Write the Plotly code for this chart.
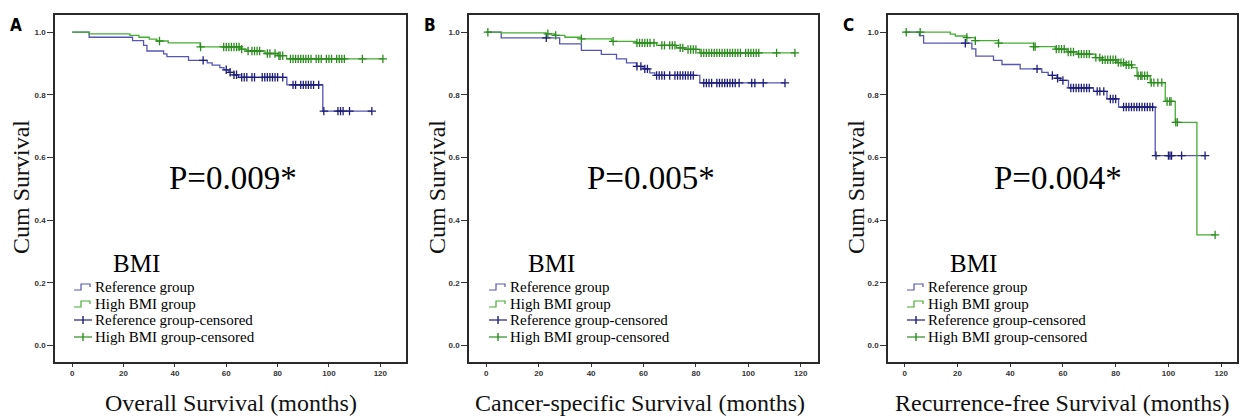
import plotly.graph_objects as go

# ---------------- data ----------------
x_ticks = [0, 20, 40, 60, 80, 100, 120]
y_ticks = [0.0, 0.2, 0.4, 0.6, 0.8, 1.0]
y_ticklabels = ["0.0", "0.2", "0.4", "0.6", "0.8", "1.0"]

legend_labels = ["Reference group", "High BMI group",
                 "Reference group-censored", "High BMI group-censored"]
legend_title = "BMI"

# Panel A – Overall survival
a_ref_t = [0, 6.6, 23.5, 27.8, 29.1, 35.6, 36.9, 45.3, 52.6, 54.5, 57.5, 59.1, 61.0, 63.0, 64.8, 83.6, 97.6]
a_ref_s = [1.0, 0.984, 0.973, 0.958, 0.940, 0.931, 0.922, 0.910, 0.902, 0.895, 0.887, 0.880, 0.872, 0.864, 0.856, 0.832, 0.748]
a_ref_end = 116.7
a_ref_cens = [51, 60, 61.5, 63, 64, 66, 67, 68, 70, 71, 74, 75, 76, 77, 78, 79, 80, 82,
              86, 87, 89, 90, 91, 92, 93, 94, 96, 98, 103.5, 104.5, 105.5, 108, 116.7]
a_hi_t = [0, 6.5, 22.5, 26, 30, 33, 37.4, 49.8, 65.4, 68, 75.1, 80, 83.5]
a_hi_s = [1.0, 0.995, 0.990, 0.984, 0.978, 0.972, 0.966, 0.953, 0.946, 0.940, 0.932, 0.925, 0.915]
a_hi_end = 121
a_hi_cens = [34, 50, 59, 60, 61, 62, 63, 64, 65, 66, 68.5, 70, 71, 72, 73, 76, 77, 79, 80.5, 81, 82,
             85, 86, 87, 88, 89, 90, 91, 92, 93, 95, 96, 97, 99, 100, 101, 103, 104, 105, 106, 113, 121]
a_p = "P=0.009*"
a_xtitle = "Overall Survival (months)"

# Panel B – Cancer-specific survival
b_ref_t = [0, 5.7, 28.0, 36.3, 43.9, 49.7, 53.5, 57.3, 59.8, 62.4, 64.3, 81.5]
b_ref_s = [1.0, 0.982, 0.963, 0.942, 0.929, 0.915, 0.902, 0.891, 0.883, 0.870, 0.862, 0.838]
b_ref_end = 114
b_ref_cens = [22.9, 57.5, 59, 60.5, 61.5, 65, 66, 67, 68, 70, 72, 73, 74, 75, 76, 77, 78, 79,
              83, 84, 85, 86, 88, 89, 90, 91, 92, 93, 94, 95, 96.5, 101.3, 102.5, 105.7, 114]
b_hi_t = [0, 5.7, 22.9, 26.0, 30.0, 36.3, 47.8, 57.3, 65.0, 72.6, 76.0, 81.5]
b_hi_s = [1.0, 0.998, 0.995, 0.990, 0.984, 0.979, 0.971, 0.966, 0.958, 0.950, 0.945, 0.934]
b_hi_end = 117.8
b_hi_cens = [0.6, 23.5, 26.5, 36.3, 48.4, 57.5, 58.5, 59.5, 60.5, 61.5, 62.5, 64, 67, 68, 70, 71, 72,
             74, 75, 77, 78, 79, 80, 82, 83, 84, 85, 86, 87, 88, 89, 90, 91, 92, 93, 94, 95, 96, 97,
             99, 100, 101, 102, 103, 104, 110.8, 117.8]
b_p = "P=0.005*"
b_xtitle = "Cancer-specific Survival (months)"

# Panel C – Recurrence-free survival
c_ref_t = [0, 5.6, 7.2, 25.5, 27.0, 33.7, 36.9, 43.8, 52.0, 54.4, 57.7, 59.0, 62.1, 71.6, 76.7, 81.1, 95.0]
c_ref_s = [1.0, 0.989, 0.965, 0.947, 0.924, 0.910, 0.897, 0.883, 0.872, 0.862, 0.853, 0.846,
           0.822, 0.811, 0.787, 0.761, 0.606]
c_ref_end = 113.9
c_ref_cens = [23, 50.2, 56, 58, 60, 63, 64, 65, 66, 67, 68, 69, 70, 73, 74, 75.5, 78, 79, 80,
              83, 84, 85, 86, 87, 88, 89, 90, 91, 92, 93, 94, 95.3, 100, 100.6, 101.2, 105, 113.9]
c_hi_t = [0, 17.3, 19.2, 23.6, 26.8, 35.6, 48.9, 57.1, 61.5, 65.3, 72.3, 74.8, 80.5, 83.6, 86.2,
          88.1, 93.1, 98.8, 102.6, 110.8]
c_hi_s = [1.0, 0.994, 0.988, 0.983, 0.973, 0.965, 0.954, 0.946, 0.937, 0.930, 0.919, 0.912,
          0.903, 0.896, 0.887, 0.861, 0.839, 0.779, 0.712, 0.353]
c_hi_end = 117.7
c_hi_cens = [0.6, 5.9, 23.6, 26.8, 35.6, 48.9, 49.5, 57.5, 58.5, 59.5, 60.5, 62, 63, 64, 66, 67,
             68, 69, 70, 72.5, 74, 75, 76, 77, 78, 79, 80, 81, 82, 83, 84, 85, 86, 88.5, 89.5, 90,
             91, 92, 93.5, 94.5, 96, 97.5, 99.5, 100.5, 101, 102.8, 103.4, 117.7]
c_p = "P=0.004*"
c_xtitle = "Recurrence-free Survival (months)"

# ---------------- styling / layout ----------------
W, H = 1244, 419
BLUE_LINE = "#5656b2"
BLUE_MARK = "#1e1e78"
GREEN_LINE = "#45ad32"
GREEN_MARK = "#2c8c1f"
SERIF = "Liberation Serif, Times New Roman, serif"
TICKFONT = dict(family="Liberation Sans, Arial, sans-serif", size=8, color="#333333", weight="bold")


def px(x):
    return x / W


def py(y):
    return 1 - y / H


def surv_at(times, surv, t):
    val = surv[0]
    for ti, si in zip(times, surv):
        if ti <= t:
            val = si
    return val


panels = [
    dict(letter="A", ref=(a_ref_t, a_ref_s, a_ref_end, a_ref_cens), hi=(a_hi_t, a_hi_s, a_hi_end, a_hi_cens),
         p=a_p, xtitle=a_xtitle, box=(55, 406), xr=(-6.7, 130.0), letter_x=16, ytitle_x=21,
         p_x=233, bmi_x=136, leg_x=74, xtitle_x=231),
    dict(letter="B", ref=(b_ref_t, b_ref_s, b_ref_end, b_ref_cens), hi=(b_hi_t, b_hi_s, b_hi_end, b_hi_cens),
         p=b_p, xtitle=b_xtitle, box=(469, 818), xr=(-6.6, 126.6), letter_x=430, ytitle_x=437,
         p_x=651, bmi_x=551, leg_x=489, xtitle_x=640),
    dict(letter="C", ref=(c_ref_t, c_ref_s, c_ref_end, c_ref_cens), hi=(c_hi_t, c_hi_s, c_hi_end, c_hi_cens),
         p=c_p, xtitle=c_xtitle, box=(888, 1237), xr=(-6.3, 126.0), letter_x=848, ytitle_x=856,
         p_x=1058, bmi_x=974, leg_x=907, xtitle_x=1062),
]

BOX_TOP, BOX_BOTTOM = 15, 362
YR = (-0.053, 1.055)

fig = go.Figure()
annotations = []
shapes = []

for i, pn in enumerate(panels):
    k = "" if i == 0 else str(i + 1)
    xa, ya = "x" + k, "y" + k
    for (t, s, end, cens), lc, mc in ((pn["ref"], BLUE_LINE, BLUE_MARK), (pn["hi"], GREEN_LINE, GREEN_MARK)):
        fig.add_trace(go.Scatter(
            x=list(t) + [end], y=list(s) + [s[-1]], mode="lines",
            line=dict(color=lc, width=1.3, shape="hv"),
            xaxis=xa, yaxis=ya, showlegend=False, hoverinfo="skip"))
        fig.add_trace(go.Scatter(
            x=cens, y=[surv_at(t, s, c) for c in cens], mode="markers",
            marker=dict(symbol="cross-thin", size=6, line=dict(color=mc, width=1.3)),
            xaxis=xa, yaxis=ya, showlegend=False, hoverinfo="skip"))

    x0, x1 = pn["box"]
    fig.layout["xaxis" + k] = dict(
        domain=[px(x0), px(x1)], range=list(pn["xr"]), anchor=ya,
        tickvals=x_ticks, ticks="outside", ticklen=3, tickwidth=1.2, tickcolor="#333333",
        tickfont=TICKFONT, showline=True, mirror=True, linecolor="#2a2a2a", linewidth=1.6,
        showgrid=False, zeroline=False, automargin=False)
    fig.layout["yaxis" + k] = dict(
        domain=[py(BOX_BOTTOM), py(BOX_TOP)], range=list(YR), anchor=xa,
        tickvals=y_ticks, ticktext=y_ticklabels, ticks="outside", ticklen=6, tickwidth=1.2,
        tickcolor="#333333", tickfont=TICKFONT, showline=True, mirror=True,
        linecolor="#2a2a2a", linewidth=1.6, showgrid=False, zeroline=False, automargin=False)

    # panel letter
    annotations.append(dict(x=px(pn["letter_x"]), y=py(25), xref="paper", yref="paper",
                            text=pn["letter"], showarrow=False, xanchor="center", yanchor="middle",
                            font=dict(family="Liberation Sans Narrow, DejaVu Sans Condensed, Arial Narrow, sans-serif",
                                      size=17, color="#000000", weight="bold")))
    # y title
    annotations.append(dict(x=px(pn["ytitle_x"]), y=py(187), xref="paper", yref="paper",
                            text="Cum Survival", textangle=-90, showarrow=False,
                            xanchor="center", yanchor="middle",
                            font=dict(family=SERIF, size=24, color="#111111")))
    # x title
    annotations.append(dict(x=px(pn["xtitle_x"]), y=py(403), xref="paper", yref="paper",
                            text=pn["xtitle"], showarrow=False, xanchor="center", yanchor="middle",
                            font=dict(family=SERIF, size=24, color="#111111")))
    # P value
    annotations.append(dict(x=px(pn["p_x"]), y=py(178), xref="paper", yref="paper",
                            text=pn["p"], showarrow=False, xanchor="center", yanchor="middle",
                            font=dict(family=SERIF, size=33, color="#000000")))
    # legend title
    annotations.append(dict(x=px(pn["bmi_x"]), y=py(263), xref="paper", yref="paper",
                            text=legend_title, showarrow=False, xanchor="center", yanchor="middle",
                            font=dict(family=SERIF, size=25, color="#000000")))
    # legend entries
    lx = pn["leg_x"]
    rows = [287, 304, 320, 337]
    colors = [BLUE_LINE, GREEN_LINE, BLUE_MARK, GREEN_MARK]
    for j, (label, ry, col) in enumerate(zip(legend_labels, rows, colors)):
        annotations.append(dict(x=px(lx + 19), y=py(ry), xref="paper", yref="paper",
                                text=label, showarrow=False, xanchor="left", yanchor="middle",
                                font=dict(family=SERIF, size=15, color="#000000")))
        if j < 2:
            path = (f"M {px(lx)},{py(ry + 3)} L {px(lx + 7)},{py(ry + 3)} L {px(lx + 7)},{py(ry - 3)} "
                    f"L {px(lx + 16)},{py(ry - 3)} L {px(lx + 16)},{py(ry)}")
            shapes.append(dict(type="path", xref="paper", yref="paper", path=path,
                               line=dict(color=col, width=1.2)))
        else:
            shapes.append(dict(type="line", xref="paper", yref="paper",
                               x0=px(lx), x1=px(lx + 18), y0=py(ry), y1=py(ry),
                               line=dict(color=col, width=1.2)))
            shapes.append(dict(type="line", xref="paper", yref="paper",
                               x0=px(lx + 9), x1=px(lx + 9), y0=py(ry - 4), y1=py(ry + 4),
                               line=dict(color=col, width=1.4)))

fig.update_layout(
    width=W, height=H, margin=dict(l=0, r=0, t=0, b=0, autoexpand=False),
    paper_bgcolor="white", plot_bgcolor="white",
    showlegend=False, annotations=annotations, shapes=shapes)

fig.write_html("out.html", config={"displayModeBar": False},
               post_script="document.body.style.margin='0px';document.body.style.overflow='hidden';")
